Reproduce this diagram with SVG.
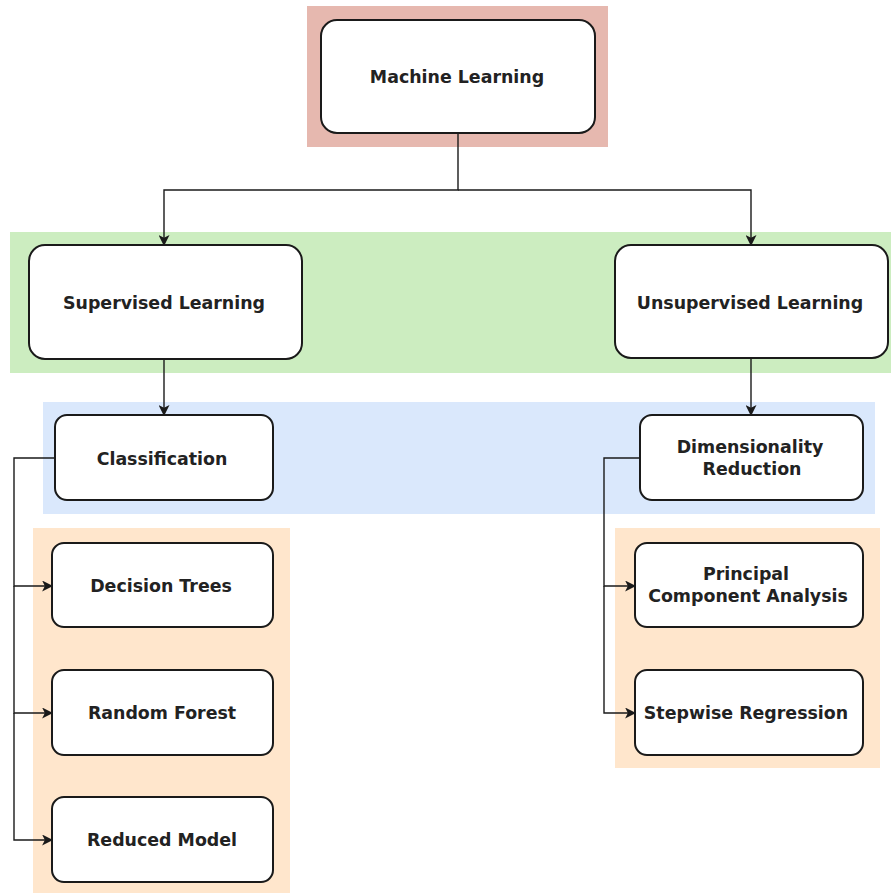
<svg xmlns="http://www.w3.org/2000/svg" width="891" height="893" viewBox="0 0 891 893">
  <style>
    .node rect { fill: #ffffff; stroke: #1a1a1a; stroke-width: 2; }
    .node text { font-family: "DejaVu Sans", Verdana, sans-serif; font-weight: bold; font-size: 17.4px; fill: #222222; text-anchor: middle; dominant-baseline: central; }
    .edge { fill: none; stroke: #1a1a1a; stroke-width: 1.4; }
  </style>
  <defs>
    <marker id="arrow" viewBox="0 0 10 10" refX="9" refY="5" markerWidth="11" markerHeight="11" markerUnits="userSpaceOnUse" orient="auto">
      <path d="M0,0 L10,5 L0,10 L2.5,5 Z" fill="#1a1a1a"/>
    </marker>
  </defs>

  <!-- level bands -->
  <g id="bands">
    <rect x="307" y="6" width="301" height="141" fill="#e6b8af"/>
    <rect x="10" y="232" width="881" height="141" fill="#ccedc0"/>
    <rect x="43" y="402" width="832" height="112" fill="#dae8fc"/>
    <rect x="33" y="528" width="257" height="365" fill="#ffe6cc"/>
    <rect x="615" y="528" width="265" height="240" fill="#ffe6cc"/>
  </g>

  <!-- connectors -->
  <g id="connectors">
    <path class="edge" d="M458,133 V190 H164 V245" marker-end="url(#arrow)"/>
    <path class="edge" d="M458,190 H751 V245" marker-end="url(#arrow)"/>
    <path class="edge" d="M164,360 V415" marker-end="url(#arrow)"/>
    <path class="edge" d="M751,359 V415" marker-end="url(#arrow)"/>
    <path class="edge" d="M55,458 H14 V586 H52" marker-end="url(#arrow)"/>
    <path class="edge" d="M14,586 V713 H52" marker-end="url(#arrow)"/>
    <path class="edge" d="M14,713 V840 H52" marker-end="url(#arrow)"/>
    <path class="edge" d="M640,458 H604 V586 H635" marker-end="url(#arrow)"/>
    <path class="edge" d="M604,586 V713 H635" marker-end="url(#arrow)"/>
  </g>

  <g id="machine-learning" class="node">
    <rect x="321" y="20" width="274" height="113" rx="16"/>
    <text x="457" y="77">Machine Learning</text>
  </g>
  <g id="supervised-learning" class="node">
    <rect x="29" y="245" width="273" height="114" rx="16"/>
    <text x="164" y="303">Supervised Learning</text>
  </g>
  <g id="unsupervised-learning" class="node">
    <rect x="615" y="245" width="273" height="113" rx="16"/>
    <text x="750" y="303">Unsupervised Learning</text>
  </g>
  <g id="classification" class="node">
    <rect x="55" y="415" width="218" height="85" rx="12"/>
    <text x="162" y="459">Classification</text>
  </g>
  <g id="dimensionality-reduction" class="node">
    <rect x="640" y="415" width="223" height="85" rx="12"/>
    <text x="750" y="447">Dimensionality</text>
    <text x="752" y="469">Reduction</text>
  </g>
  <g id="decision-trees" class="node">
    <rect x="52" y="543" width="221" height="84" rx="12"/>
    <text x="161" y="586">Decision Trees</text>
  </g>
  <g id="random-forest" class="node">
    <rect x="52" y="670" width="221" height="85" rx="12"/>
    <text x="162" y="713">Random Forest</text>
  </g>
  <g id="reduced-model" class="node">
    <rect x="52" y="797" width="221" height="85" rx="12"/>
    <text x="162" y="840">Reduced Model</text>
  </g>
  <g id="pca" class="node">
    <rect x="635" y="543" width="228" height="84" rx="12"/>
    <text x="746" y="574">Principal</text>
    <text x="748" y="596">Component Analysis</text>
  </g>
  <g id="stepwise-regression" class="node">
    <rect x="635" y="670" width="228" height="85" rx="12"/>
    <text x="746" y="713">Stepwise Regression</text>
  </g>
</svg>
